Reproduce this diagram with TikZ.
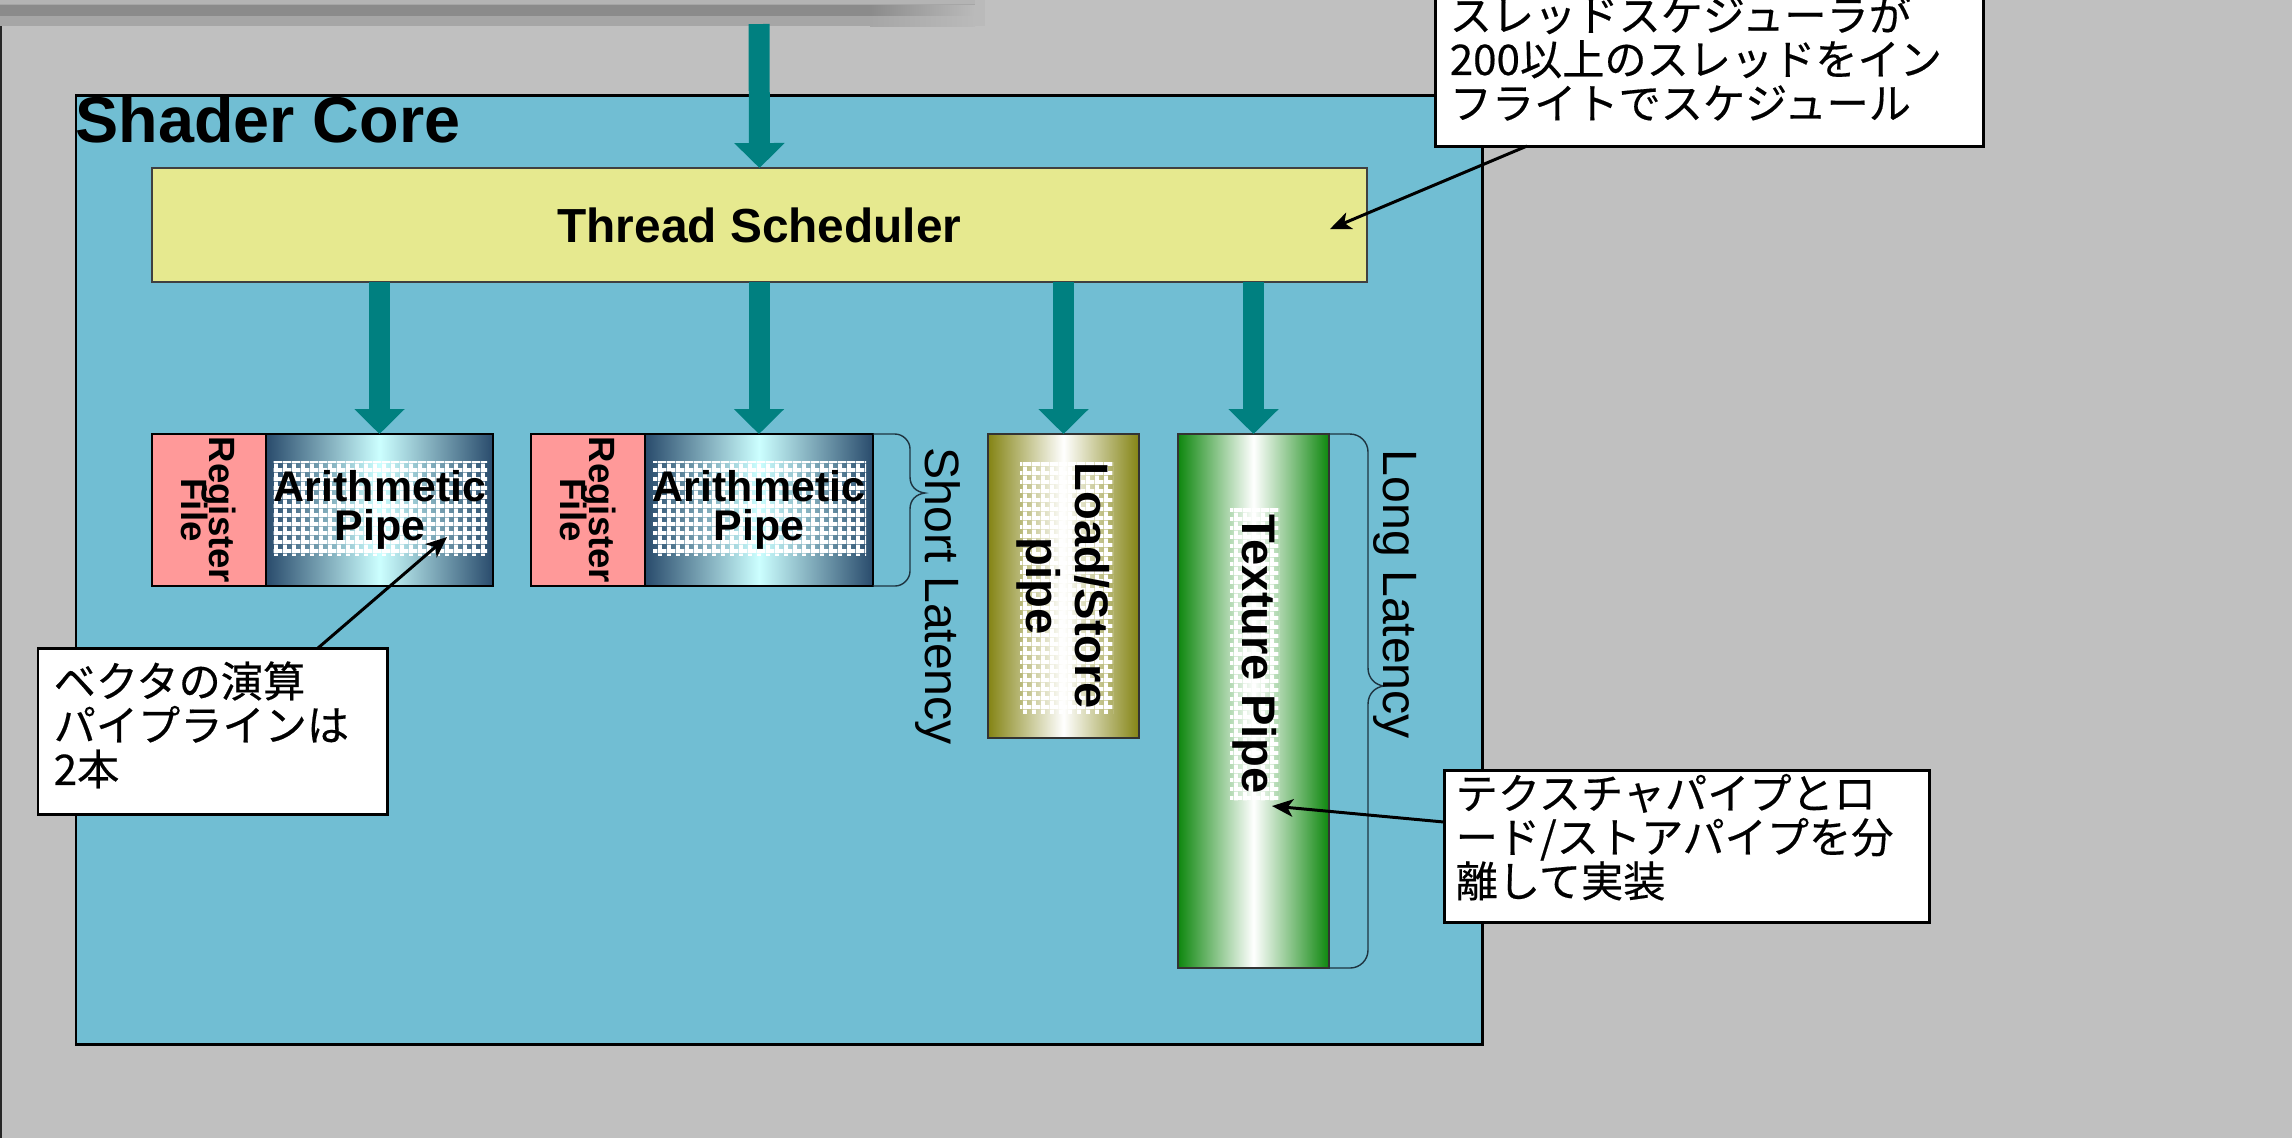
\documentclass[tikz,border=0pt]{standalone}
\usepackage{fontspec}
\setmainfont{Liberation Sans}
\newfontfamily\cjk[FakeBold=0.4]{Noto Sans CJK JP}
\usetikzlibrary{arrows.meta,patterns,fit}
\lineskiplimit=-100pt

\definecolor{bggray}{HTML}{C0C0C0}
\definecolor{bartop}{HTML}{B4B4B4}
\definecolor{barmid}{HTML}{A6A6A6}
\definecolor{bardark}{HTML}{8B8B8B}
\definecolor{barend}{HTML}{BABABA}
\definecolor{corebl}{HTML}{71BED3}
\definecolor{schedy}{HTML}{E6E98F}
\definecolor{tealar}{HTML}{008080}
\definecolor{rfpink}{HTML}{FF9999}
\definecolor{apdark}{HTML}{294B6C}
\definecolor{aplight}{HTML}{CCFFFF}
\definecolor{olivep}{HTML}{848414}
\definecolor{greenp}{HTML}{0E870E}
\definecolor{bracec}{HTML}{1E3440}

\pgfdeclarepatternformonly{wgrid}{\pgfqpoint{0pt}{0pt}}{\pgfqpoint{2.6pt}{2.6pt}}{\pgfqpoint{2.6pt}{2.6pt}}{%
  \pgfpathrectangle{\pgfqpoint{0pt}{0pt}}{\pgfqpoint{2.6pt}{1.2pt}}%
  \pgfpathrectangle{\pgfqpoint{0pt}{1.2pt}}{\pgfqpoint{1.2pt}{1.4pt}}%
  \pgfusepath{fill}}

\tikzset{
  boxfit/.style={inner sep=0pt, outer sep=0pt},
  pipeline/.style={draw=black, line width=0.7pt},
  thinline/.style={draw=black!80, line width=0.45pt},
  patbox/.style={pattern=wgrid, pattern color=white},
  blockarrow/.style={draw=tealar, line width=5.97pt, -{Triangle[width=13.9pt,length=7.1pt]}},
  callout/.style={draw=black, line width=0.85pt, fill=white},
  callarrow/.style={draw=black, line width=0.85pt, -{Stealth[length=6pt,width=5pt,inset=1.6pt]}},
  cjktext/.style={font={\cjk\fontsize{12}{12.5}\selectfont}, text width=10cm, align=left, inner sep=0pt, anchor=base west},
  bracepath/.style={draw=bracec, line width=0.4pt},
  rftext/.style={rotate=-90, inner sep=0pt, align=center, font={\bfseries\fontsize{10.4}{8}\selectfont}},
  aptext/.style={inner sep=0pt, align=center, font={\bfseries\fontsize{12.2}{11.1}\selectfont}},
  vtext/.style={rotate=-90, inner sep=0pt, align=center, font={\bfseries\fontsize{13.4}{13.9}\selectfont}},
  lattext/.style={rotate=-90, anchor=west, inner sep=0pt, font={\fontsize{13.7}{16}\selectfont}},
}

\begin{document}
\begin{tikzpicture}[x=0.01cm,y=-0.01cm]
\useasboundingbox (0,0) rectangle (2292,1138);
\begin{scope}
\clip (0,0) rectangle (2292,1138);
\fill[bggray] (0,0) rectangle (2292,1138);

% top bar
\fill[barmid] (0,0) rectangle (985,26);
\fill[bartop] (0,0) rectangle (985,4);
\fill[bardark] (0,5) rectangle (870,16);
\shade[left color=bardark, right color=barend] (870,5) rectangle (975,16);
\shade[left color=barmid, right color=barend] (870,16) rectangle (975,26);
\fill[barend] (975,0) rectangle (985,26);
\draw[line width=0.57pt, black!85] (1,26) -- (1,1138);

% shader core
\node[fit={(76,95) (1482,1044)}, boxfit, fill=corebl, draw=black, line width=0.85pt] (core) {};
\node[anchor=base west, inner sep=0pt, font={\bfseries\fontsize{18.4}{22}\selectfont}] (coret) at (75,142) {Shader Core};

% thread scheduler
\node[fit={(152,168) (1367,282)}, boxfit, fill=schedy, draw=black!75, line width=0.4pt] (sched) {};
\node[inner sep=0pt, font={\bfseries\fontsize{13.6}{16}\selectfont}] (schedt) at (sched.center) {Thread Scheduler};

% arithmetic pipe 1
\node[fit={(152,434) (266,586)}, boxfit, fill=rfpink, pipeline] (rf1) {};
\node[fit={(266,434) (493,586)}, boxfit, left color=apdark, right color=apdark, middle color=aplight, pipeline] (ap1) {};
\path[patbox] (273,461) rectangle (487,555);
\node[rftext] (rf1t) at (rf1.center) {Register\\File};
\node[aptext] (ap1t) at (380,510) {Arithmetic\\Pipe};

% arithmetic pipe 2
\node[fit={(531,434) (645,586)}, boxfit, fill=rfpink, pipeline] (rf2) {};
\node[fit={(645,434) (873,586)}, boxfit, left color=apdark, right color=apdark, middle color=aplight, pipeline] (ap2) {};
\path[patbox] (653,461) rectangle (866,555);
\node[rftext] (rf2t) at (rf2.center) {Register\\File};
\node[aptext] (ap2t) at (759,510) {Arithmetic\\Pipe};

% load/store pipe
\node[fit={(988,434) (1139,738)}, boxfit, left color=olivep, right color=olivep, middle color=white, thinline] (ls) {};
\path[patbox] (1020,462) rectangle (1113,713);
\node[vtext] (lst) at (ls.center) {Load/Store\\pipe};

% texture pipe
\node[fit={(1178,434) (1329,968)}, boxfit, left color=greenp, right color=greenp, middle color=white, thinline] (tx) {};
\path[patbox] (1230,508) rectangle (1279,800);
\node[vtext] (txt) at (1255,654) {Texture Pipe};

% teal arrows
\coordinate (src) at (759,24);
\draw[blockarrow] (src) -- (sched.north);
\draw[blockarrow] (ap1.north |- sched.south) -- (ap1.north);
\draw[blockarrow] (ap2.north |- sched.south) -- (ap2.north);
\draw[blockarrow] (ls.north |- sched.south) -- (ls.north);
\draw[blockarrow] (tx.north |- sched.south) -- (tx.north);

% braces
\draw[bracepath] (873,434) -- (895,434) .. controls (903,434) and (910,441) .. (910,449) -- (910,477)
  .. controls (910,486) and (916,492) .. (925,493) .. controls (916,494) and (910,500) .. (910,509)
  -- (910,571) .. controls (910,579) and (903,586) .. (895,586) -- (873,586);
\draw[bracepath] (1329,434) -- (1350,434) .. controls (1360,434) and (1368,442) .. (1368,452) -- (1368,668)
  .. controls (1368,678) and (1375,685) .. (1384,686) .. controls (1375,687) and (1368,694) .. (1368,704)
  -- (1368,950) .. controls (1368,960) and (1360,968) .. (1350,968) -- (1329,968);
\node[lattext] (shortl) at (938,447) {Short Latency};
\node[lattext] (longl) at (1395,449) {Long Latency};

% callouts
\node[fit={(1435,-20) (1983,146)}, boxfit, callout] (c1) {};
\node[cjktext] (c1t) at (1449,31) {スレッドスケジューラが\\200以上のスレッドをイン\\フライトでスケジュール};
\coordinate (c1s) at (1527,146);
\coordinate (c1e) at (1330,229);
\draw[callarrow] (c1s) -- (c1e);

\node[fit={(38,648) (387,814)}, boxfit, callout] (c2) {};
\node[cjktext] (c2t) at (53,697) {ベクタの演算\\パイプラインは\\2本};
\coordinate (c2s) at (318,648);
\coordinate (c2e) at (447,537);
\draw[callarrow] (c2s) -- (c2e);

\node[fit={(1444,770) (1929,922)}, boxfit, callout] (c3) {};
\node[cjktext] (c3t) at (1455,809) {テクスチャパイプとロ\\ード/ストアパイプを分\\離して実装};
\coordinate (c3s) at (1444,822);
\coordinate (c3e) at (1272,806);
\draw[callarrow] (c3s) -- (c3e);
\end{scope}
\end{tikzpicture}
\end{document}
